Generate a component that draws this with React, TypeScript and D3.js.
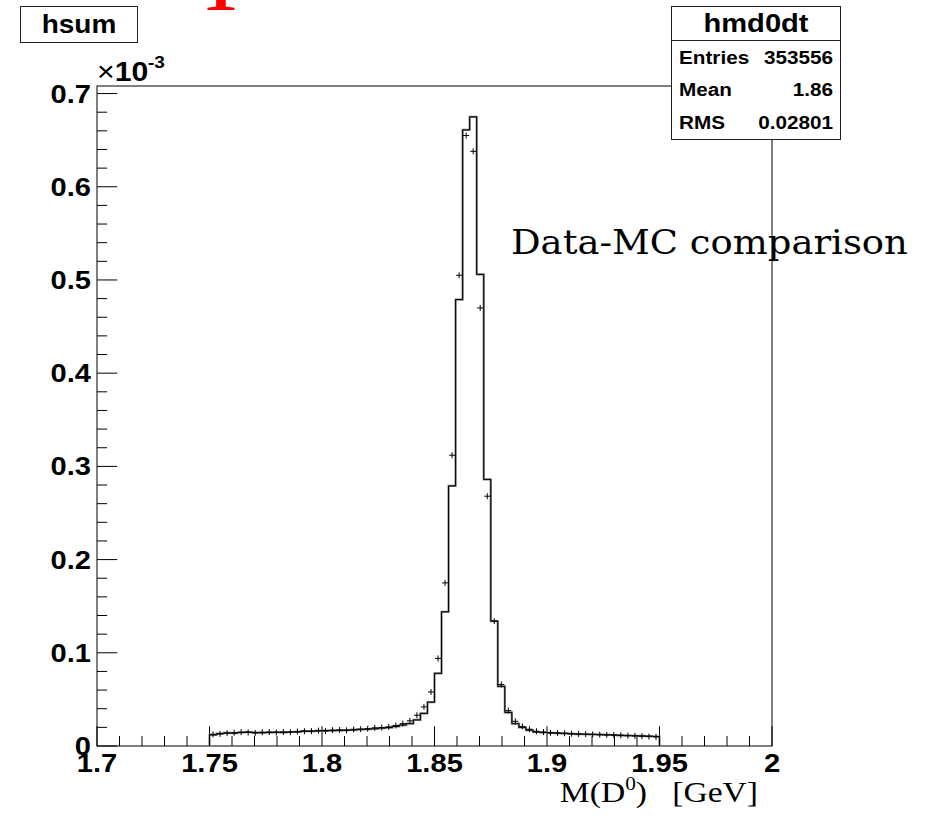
import React from 'react';
import * as d3 from 'd3';

const W = 925;
const H = 818;

// histogram binning (hsum / hmd0dt)
const histLow = 1.75;
const histHigh = 1.95;

// MC sum histogram contents (units of 1e-3), 64 bins
const mcValues = [
  0.0120, 0.0133, 0.0140, 0.0138, 0.0145, 0.0150, 0.0145, 0.0142, 0.0145, 0.0148,
  0.0146, 0.0150, 0.0152, 0.0160, 0.0158, 0.0162, 0.0165, 0.0165, 0.0168, 0.0170,
  0.0172, 0.0178, 0.0180, 0.0185, 0.0192, 0.0198, 0.0210, 0.0225, 0.0240, 0.0280,
  0.0350, 0.0470, 0.0780, 0.1440, 0.2790, 0.4790, 0.6610, 0.6750, 0.5060, 0.2860,
  0.1340, 0.0640, 0.0360, 0.0240, 0.0200, 0.0170, 0.0150, 0.0145, 0.0140, 0.0138,
  0.0135, 0.0130, 0.0128, 0.0126, 0.0124, 0.0122, 0.0120, 0.0118, 0.0115, 0.0112,
  0.0110, 0.0108, 0.0105, 0.0102,
];

// data points (units of 1e-3), 64 bins
const dataValues = [
  0.0125, 0.0130, 0.0138, 0.0142, 0.0148, 0.0145, 0.0140, 0.0148, 0.0150, 0.0145,
  0.0150, 0.0148, 0.0155, 0.0158, 0.0160, 0.0165, 0.0160, 0.0170, 0.0172, 0.0168,
  0.0178, 0.0180, 0.0185, 0.0195, 0.0198, 0.0205, 0.0220, 0.0240, 0.0270, 0.0330,
  0.0420, 0.0580, 0.0940, 0.1750, 0.3120, 0.5050, 0.6550, 0.6380, 0.4700, 0.2680,
  0.1340, 0.0660, 0.0380, 0.0265, 0.0210, 0.0180, 0.0158, 0.0150, 0.0142, 0.0140,
  0.0136, 0.0132, 0.0130, 0.0127, 0.0125, 0.0122, 0.0120, 0.0117, 0.0114, 0.0111,
  0.0108, 0.0104, 0.0101, 0.0098,
];

const xDomain = [1.7, 2];
const yDomain = [0, 0.7081];
const xTickValues = [1.7, 1.75, 1.8, 1.85, 1.9, 1.95, 2];
const xTickLabels = ['1.7', '1.75', '1.8', '1.85', '1.9', '1.95', '2'];
const yTickValues = [0, 0.1, 0.2, 0.3, 0.4, 0.5, 0.6, 0.7];
const yTickLabels = ['0', '0.1', '0.2', '0.3', '0.4', '0.5', '0.6', '0.7'];

const titleText = 'hsum';
const statsTitle = 'hmd0dt';
const statsLabels = ['Entries', 'Mean', 'RMS'];
const statsValues = ['353556', '1.86', '0.02801'];
const annotation = 'Data-MC comparison';

const SANS = '"Liberation Sans", Arial, Helvetica, sans-serif';
const SERIF = '"Liberation Serif", "Times New Roman", serif';
const DSERIF = '"DejaVu Serif", serif';
const SX = 1.12;

const FRAME = { left: 97, right: 772, top: 86, bottom: 746 };

function T({ x, y, anchor = 'start', size, weight = 'bold', family = SANS, fill = '#000', children }: any) {
  return (
    <text
      transform={`translate(${x},${y}) scale(${SX},1)`}
      textAnchor={anchor}
      fontSize={size}
      fontWeight={weight}
      fontFamily={family}
      fill={fill}
    >
      {children}
    </text>
  );
}

export default function App() {
  const x = d3.scaleLinear().domain(xDomain).range([FRAME.left, FRAME.right]);
  const y = d3.scaleLinear().domain(yDomain).range([FRAME.bottom, FRAME.top]);

  const nBins = mcValues.length;
  const binW = (histHigh - histLow) / nBins;
  const edges = d3.range(nBins + 1).map((i) => histLow + i * binW);

  const pts: [number, number][] = [[edges[0], 0]];
  mcValues.forEach((v, i) => pts.push([edges[i], v]));
  pts.push([edges[nBins], 0]);
  const step = d3
    .line<[number, number]>()
    .x((d) => x(d[0]))
    .y((d) => y(d[1]))
    .curve(d3.curveStepAfter);
  const histPath = step(pts) || '';

  const xMinor = d3.ticks(xDomain[0], xDomain[1], 30);
  const yMinor = d3.ticks(0, 0.7, 35).filter((t) => t <= yDomain[1]);
  const xMajLen = 0.03 * (FRAME.bottom - FRAME.top);
  const yMajLen = 0.03 * (FRAME.right - FRAME.left);

  const isMajor = (t: number, arr: number[]) => arr.some((m) => Math.abs(m - t) < 1e-9);

  return (
    <svg
      width={W}
      height={H}
      viewBox={`0 0 ${W} ${H}`}
      style={{ position: 'absolute', left: 0, top: 0, background: '#fff' }}
    >
      <rect x={0} y={0} width={W} height={H} fill="#fff" />

      {/* cut-off red title glyph at the top */}
      <T x={221} y={9.5} anchor="middle" size={92} weight="normal" family={SERIF} fill="#ff0000">I</T>

      {/* title box */}
      <rect x={20.5} y={6.5} width={117} height={36} fill="#fff" stroke="#222" strokeWidth={1} />
      <T x={79} y={33} anchor="middle" size={25}>{titleText}</T>

      {/* frame */}
      <rect
        x={FRAME.left}
        y={FRAME.top}
        width={FRAME.right - FRAME.left}
        height={FRAME.bottom - FRAME.top}
        fill="none"
        stroke="#000"
        strokeWidth={1}
      />

      {/* x ticks */}
      {xMinor.map((t, i) => {
        const len = isMajor(t, xTickValues) ? xMajLen : xMajLen / 2;
        return (
          <line key={'xt' + i} x1={x(t)} x2={x(t)} y1={FRAME.bottom} y2={FRAME.bottom - len} stroke="#000" strokeWidth={1} />
        );
      })}
      {/* y ticks */}
      {yMinor.map((t, i) => {
        const len = isMajor(t, yTickValues) ? yMajLen : yMajLen / 2;
        return (
          <line key={'yt' + i} x1={FRAME.left} x2={FRAME.left + len} y1={y(t)} y2={y(t)} stroke="#000" strokeWidth={1} />
        );
      })}

      {/* histogram outline */}
      <path d={histPath} fill="none" stroke="#808080" strokeWidth={2.2} />
      <path d={histPath} fill="none" stroke="#000" strokeWidth={1} />

      {/* data markers (+) */}
      {dataValues.map((v, i) => {
        const cx = x((edges[i] + edges[i + 1]) / 2);
        const cy = y(v);
        return (
          <g key={'d' + i} stroke="#000" strokeWidth={1}>
            <line x1={cx - 3} x2={cx + 3} y1={cy} y2={cy} />
            <line x1={cx} x2={cx} y1={cy - 3} y2={cy + 3} />
          </g>
        );
      })}

      {/* x tick labels */}
      {xTickValues.map((t, i) => (
        <T key={'xl' + i} x={x(t)} y={772} anchor="middle" size={26}>{xTickLabels[i]}</T>
      ))}
      {/* y tick labels */}
      {yTickValues.map((t, i) => (
        <T key={'yl' + i} x={91} y={y(t) + 9} anchor="end" size={26}>{yTickLabels[i]}</T>
      ))}

      {/* exponent */}
      <T x={97} y={81} size={27}>
        <tspan fontWeight="normal">×</tspan>10
      </T>
      <T x={148} y={68} size={17}>-3</T>

      {/* x axis title */}
      <T x={758} y={802} anchor="end" size={30} weight="normal" family={SERIF}>
        M(D<tspan dy={-12} fontSize={19}>0</tspan><tspan dy={12}>){'\u00A0\u00A0\u00A0'}[GeV]</tspan>
      </T>

      {/* annotation */}
      <T x={511} y={254} size={33} weight="normal" family={DSERIF}>{annotation}</T>

      {/* stats box */}
      <rect x={671.5} y={6.5} width={169} height={133} fill="#fff" stroke="#222" strokeWidth={1} />
      <line x1={671.5} x2={840.5} y1={40.5} y2={40.5} stroke="#222" strokeWidth={1} />
      <T x={756} y={31.5} anchor="middle" size={26}>{statsTitle}</T>
      {statsLabels.map((l, i) => (
        <g key={'s' + i}>
          <T x={679} y={63.5 + i * 32.5} size={18.5}>{l}</T>
          <T x={833} y={63.5 + i * 32.5} anchor="end" size={18.5}>{statsValues[i]}</T>
        </g>
      ))}
    </svg>
  );
}
